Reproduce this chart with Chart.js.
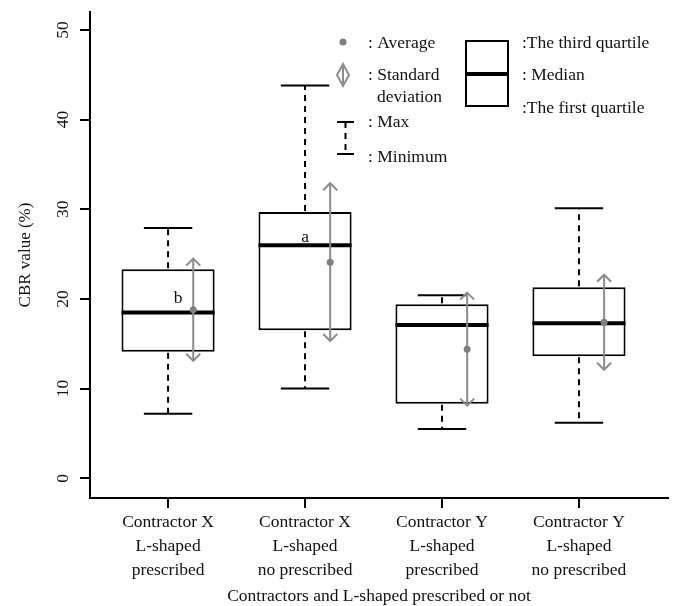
<!DOCTYPE html>
<html>
<head>
<meta charset="utf-8">
<script src="https://cdn.jsdelivr.net/npm/chart.js@4.4.0/dist/chart.umd.min.js"></script>
<style>
body { margin: 0; background: #fff; }
</style>
</head>
<body>
<canvas id="chart-area" width="675" height="606"></canvas>
<script>
// groups (x axis) and box statistics
var groupLabels = [
	['Contractor X', 'L-shaped', 'prescribed'],
	['Contractor X', 'L-shaped', 'no prescribed'],
	['Contractor Y', 'L-shaped', 'prescribed'],
	['Contractor Y', 'L-shaped', 'no prescribed']
];
var minValues = [7.2, 10.0, 5.5, 6.2];
var q1Values = [14.1, 16.5, 8.3, 13.6];
var medianValues = [18.5, 26.0, 17.1, 17.3];
var q3Values = [23.3, 29.7, 19.4, 21.3];
var maxValues = [27.9, 43.8, 20.4, 30.1];
var meanValues = [18.8, 24.1, 14.4, 17.4];
var sdValues = [5.7, 8.8, 6.3, 5.3];
var groupLetters = ['b', 'a', '', ''];
var yTicks = [0, 10, 20, 30, 40, 50];

var FONT = "'Liberation Serif', 'Times New Roman', serif";
var GREY = '#8c8c8c';
var letterOffsets = [[10, -9], [0, -3], [0, 0], [0, 0]];

function seg(ctx, x1, y1, x2, y2) {
	ctx.beginPath();
	ctx.moveTo(x1, y1);
	ctx.lineTo(x2, y2);
	ctx.stroke();
}

function arrowHead(ctx, x, y, dir) {
	ctx.beginPath();
	ctx.moveTo(x - 7, y - dir * 7);
	ctx.lineTo(x, y);
	ctx.lineTo(x + 7, y - dir * 7);
	ctx.stroke();
}

var boxExtras = {
	id: 'boxExtras',
	afterDatasetsDraw: function(chart) {
		var ctx = chart.ctx;
		var ys = chart.scales.y;
		var meta = chart.getDatasetMeta(0);

		ctx.save();
		meta.data.forEach(function(bar, i) {
			var cx = bar.x, hw = bar.width / 2, cap = bar.width * 0.26;
			var py = function(v) { return ys.getPixelForValue(v); };

			// median
			ctx.strokeStyle = '#000';
			ctx.lineWidth = 4;
			seg(ctx, cx - hw, py(medianValues[i]), cx + hw, py(medianValues[i]));

			// whiskers
			ctx.lineWidth = 2;
			ctx.setLineDash([6, 5]);
			seg(ctx, cx, py(q3Values[i]) - 1, cx, py(maxValues[i]));
			seg(ctx, cx, py(q1Values[i]) + 1, cx, py(minValues[i]));
			ctx.setLineDash([]);
			seg(ctx, cx - cap, py(maxValues[i]), cx + cap, py(maxValues[i]));
			seg(ctx, cx - cap, py(minValues[i]), cx + cap, py(minValues[i]));

			// standard deviation arrow
			var ax = cx + bar.width * 0.27;
			var top = py(meanValues[i] + sdValues[i]);
			var bot = py(meanValues[i] - sdValues[i]);
			ctx.strokeStyle = GREY;
			ctx.lineWidth = 2;
			seg(ctx, ax, top, ax, bot);
			arrowHead(ctx, ax, top, -1);
			arrowHead(ctx, ax, bot, 1);

			// mean
			ctx.fillStyle = '#7f7f7f';
			ctx.beginPath();
			ctx.arc(ax, py(meanValues[i]), 3.5, 0, Math.PI * 2);
			ctx.fill();

			// group letter
			if (groupLetters[i]) {
				ctx.fillStyle = '#111';
				ctx.font = '17.5px ' + FONT;
				ctx.textAlign = 'center';
				ctx.textBaseline = 'alphabetic';
				ctx.fillText(groupLetters[i], cx + letterOffsets[i][0], py(medianValues[i]) + letterOffsets[i][1]);
			}
		});

		// rotated y tick labels
		ctx.fillStyle = '#111';
		ctx.font = '17.5px ' + FONT;
		ctx.textAlign = 'center';
		ctx.textBaseline = 'middle';
		yTicks.forEach(function(v) {
			ctx.save();
			ctx.translate(63, ys.getPixelForValue(v));
			ctx.rotate(-Math.PI / 2);
			ctx.fillText(String(v), 0, 0);
			ctx.restore();
		});

		// key
		ctx.textAlign = 'left';
		ctx.fillStyle = '#7f7f7f';
		ctx.beginPath();
		ctx.arc(343, 42, 3.5, 0, Math.PI * 2);
		ctx.fill();

		ctx.strokeStyle = GREY;
		ctx.lineWidth = 2;
		ctx.beginPath();
		ctx.moveTo(343, 64);
		ctx.lineTo(349, 75);
		ctx.lineTo(343, 86);
		ctx.lineTo(337, 75);
		ctx.closePath();
		ctx.stroke();
		seg(ctx, 343, 64, 343, 86);

		ctx.strokeStyle = '#000';
		seg(ctx, 337, 122, 354, 122);
		seg(ctx, 337, 154, 354, 154);
		ctx.setLineDash([6, 5]);
		seg(ctx, 345.5, 122, 345.5, 154);
		ctx.setLineDash([]);

		ctx.strokeRect(466, 41, 42, 65);
		ctx.lineWidth = 4;
		seg(ctx, 466, 74, 508, 74);

		ctx.fillStyle = '#111';
		ctx.fillText(': Average', 368, 43);
		ctx.fillText(': Standard', 368, 75);
		ctx.fillText('deviation', 377, 97);
		ctx.fillText(': Max', 368, 122);
		ctx.fillText(': Minimum', 368, 157);
		ctx.fillText(':The third quartile', 522, 43);
		ctx.fillText(': Median', 522, 75);
		ctx.fillText(':The first quartile', 522, 108);
		ctx.restore();
	}
};

var boxData = groupLabels.map(function(g, i) {
	return { x: i + 1, y: [q1Values[i], q3Values[i]] };
});

var myChart = new Chart(document.getElementById('chart-area'), {
	type: 'bar',
	data: {
		datasets: [{
			data: boxData,
			backgroundColor: '#fff',
			borderColor: '#000',
			borderWidth: 2,
			borderSkipped: false,
			categoryPercentage: 1,
			barPercentage: 0.68
		}]
	},
	plugins: [boxExtras],
	options: {
		responsive: false,
		animation: false,
		layout: { padding: { top: 12, right: 7, left: 0, bottom: 0 } },
		plugins: {
			legend: { display: false },
			tooltip: { enabled: false }
		},
		scales: {
			x: {
				type: 'linear',
				min: 0.43,
				max: 4.65,
				offset: false,
				afterBuildTicks: function(scale) {
					scale.ticks = groupLabels.map(function(g, i) { return { value: i + 1 }; });
				},
				afterFit: function(scale) { scale.height = 108; },
				grid: { offset: false, drawOnChartArea: false, color: '#000', lineWidth: 2, tickLength: 10 },
				border: { display: true, color: '#000', width: 2 },
				ticks: {
					padding: 3,
					color: '#111',
					font: { family: FONT, size: 17.5, lineHeight: 1.35 },
					callback: function(v) { return groupLabels[v - 1]; }
				},
				title: {
					display: true,
					text: 'Contractors and L-shaped prescribed or not',
					color: '#111',
					font: { family: FONT, size: 17.5, lineHeight: 1.1 },
					padding: { top: 0, bottom: 0 }
				}
			},
			y: {
				min: -2.2,
				max: 52,
				afterBuildTicks: function(scale) {
					scale.ticks = yTicks.map(function(v) { return { value: v }; });
				},
				afterFit: function(scale) { scale.width = 90; },
				grid: { drawOnChartArea: false, color: '#000', lineWidth: 2, tickLength: 10 },
				border: { display: true, color: '#000', width: 2 },
				ticks: { display: false },
				title: {
					display: true,
					text: 'CBR value (%)',
					color: '#111',
					font: { family: FONT, size: 17 },
					padding: { top: 15, bottom: 0 }
				}
			}
		}
	}
});
</script>
</body>
</html>
